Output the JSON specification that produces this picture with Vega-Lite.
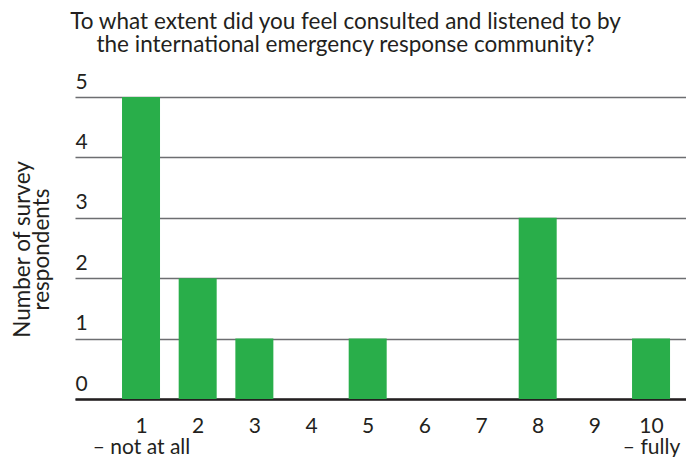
{
  "$schema": "https://vega.github.io/schema/vega-lite/v6.json",
  "width": 611,
  "height": 302,
  "autosize": {"type": "none"},
  "padding": {"left": 75, "top": 97, "right": 0, "bottom": 58},
  "background": "white",
  "config": {
    "font": "Lato",
    "view": {"stroke": null},
    "title": {"font": "Lato", "fontSize": 22.5, "fontWeight": "normal", "color": "#231f20", "lineHeight": 22.5},
    "axis": {"labelFont": "Lato", "titleFont": "Lato", "labelColor": "#231f20", "titleColor": "#231f20"}
  },
  "title": {
    "text": ["To what extent did you feel consulted and listened to by", "the international emergency response community?"],
    "anchor": "middle",
    "dx": -35,
    "offset": 15
  },
  "data": {
    "values": [
      {"score": 1, "count": 5},
      {"score": 2, "count": 2},
      {"score": 3, "count": 1},
      {"score": 4, "count": 0},
      {"score": 5, "count": 1},
      {"score": 6, "count": 0},
      {"score": 7, "count": 0},
      {"score": 8, "count": 3},
      {"score": 9, "count": 0},
      {"score": 10, "count": 1}
    ]
  },
  "mark": {"type": "bar", "width": 38, "color": "#29ae4a"},
  "encoding": {
    "x": {
      "field": "score",
      "type": "quantitative",
      "scale": {"domain": [-0.165, 10.617], "nice": false, "zero": false, "padding": 0},
      "axis": {
        "values": [1, 2, 3, 4, 5, 6, 7, 8, 9, 10],
        "title": null,
        "grid": false,
        "ticks": false,
        "domainColor": "#231f20",
        "domainWidth": 2.5,
        "labelFontSize": 21,
        "labelPadding": 16,
        "labelLineHeight": 21,
        "labelOverlap": false,
        "labelFlush": false,
        "labelBound": false,
        "labelExpr": "datum.value == 1 ? ['1', '– not at all'] : datum.value == 10 ? ['10', '– fully'] : datum.label"
      }
    },
    "y": {
      "field": "count",
      "type": "quantitative",
      "scale": {"domain": [0, 5], "nice": false, "padding": 0},
      "axis": {
        "values": [0, 1, 2, 3, 4, 5],
        "title": ["Number of survey", "respondents"],
        "titleFontSize": 22.5,
        "titleFontWeight": "normal",
        "titleLineHeight": 19,
        "titleX": -46,
        "titleY": 152,
        "titleAlign": "center",
        "titleBaseline": "alphabetic",
        "domain": false,
        "ticks": false,
        "grid": true,
        "gridColor": "#6d6e71",
        "gridWidth": 1.3,
        "labelFontSize": 21,
        "labelAlign": "left",
        "labelPadding": 0,
        "labelBaseline": "alphabetic",
        "labelOffset": -9,
        "labelOverlap": false,
        "labelBound": false,
        "labelFlush": false
      }
    }
  }
}
